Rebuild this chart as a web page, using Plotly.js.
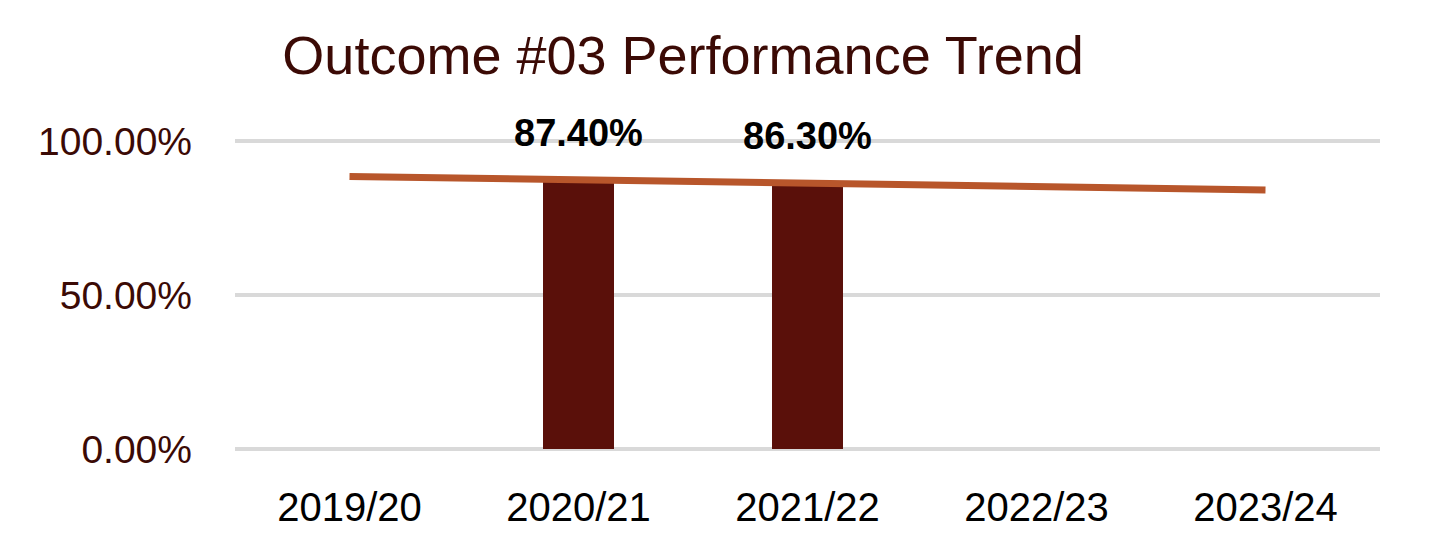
<!DOCTYPE html>
<html>
<head>
<meta charset="utf-8">
<script src="https://cdn.plot.ly/plotly-3.0.1.min.js"></script>
<style>
  html, body { margin: 0; padding: 0; background: #ffffff; }
  #chart { width: 1432px; height: 536px; }
</style>
</head>
<body>
<div id="chart"></div>
<script>
  // Werte
  var YEARS = ["2019/20", "2020/21", "2021/22", "2022/23", "2023/24"];
  var RESULTS = [null, 0.874, 0.863, null, null];
  var TREND = [0.885, 0.874, 0.863, 0.852, 0.841];
  var Y_TICKS = [0, 0.5, 1];

  var FONT = "Liberation Sans, Arial, sans-serif";
  var BROWN = "#3b0a05";

  var bars = {
    x: YEARS,
    y: RESULTS,
    type: "bar",
    marker: { color: "#5a100a" },
    hoverinfo: "skip",
    showlegend: false
  };

  var trend = {
    x: YEARS,
    y: TREND,
    type: "scatter",
    mode: "lines",
    line: { color: "#b8562b", width: 7 },
    hoverinfo: "skip",
    showlegend: false
  };

  // Datenbeschriftung oberhalb der Balken
  var labels = [];
  YEARS.forEach(function (year, i) {
    if (RESULTS[i] == null) return;
    labels.push({
      x: year,
      y: RESULTS[i],
      xref: "x",
      yref: "y",
      text: (RESULTS[i] * 100).toFixed(2) + "%",
      showarrow: false,
      yanchor: "middle",
      yshift: 47,
      font: { family: FONT, size: 38, color: "#000000", weight: 700 }
    });
  });

  /*
    Achse etwas über 0 und 100 % hinaus, sonst fehlen die Gitterlinien am Rand.
    Margins entsprechend um ~6px verkleinert.
  */
  var layout = {
    width: 1432,
    height: 536,
    margin: { l: 235, r: 52, t: 135, b: 81 },
    paper_bgcolor: "#ffffff",
    plot_bgcolor: "#ffffff",
    font: { family: FONT },
    bargap: 0.69,
    title: {
      text: "Outcome #03 Performance Trend",
      font: { family: FONT, size: 54, color: BROWN },
      xref: "container",
      yref: "container",
      x: 0.477,
      xanchor: "center",
      y: 0.897,
      yanchor: "middle"
    },
    xaxis: {
      type: "category",
      showgrid: false,
      zeroline: false,
      showline: false,
      ticks: "",
      ticklabelstandoff: 25,
      tickfont: { family: FONT, size: 40, color: "#000000" }
    },
    yaxis: {
      range: [-0.0195, 1.0195],
      tickmode: "array",
      tickvals: Y_TICKS,
      tickformat: ".2%",
      showgrid: true,
      gridcolor: "#d9d9d9",
      gridwidth: 3.5,
      zeroline: false,
      showline: false,
      ticks: "",
      ticklabelstandoff: 42,
      tickfont: { family: FONT, size: 39, color: BROWN }
    },
    annotations: labels
  };

  Plotly.newPlot("chart", [bars, trend], layout, { displayModeBar: false, staticPlot: true });
</script>
</body>
</html>
